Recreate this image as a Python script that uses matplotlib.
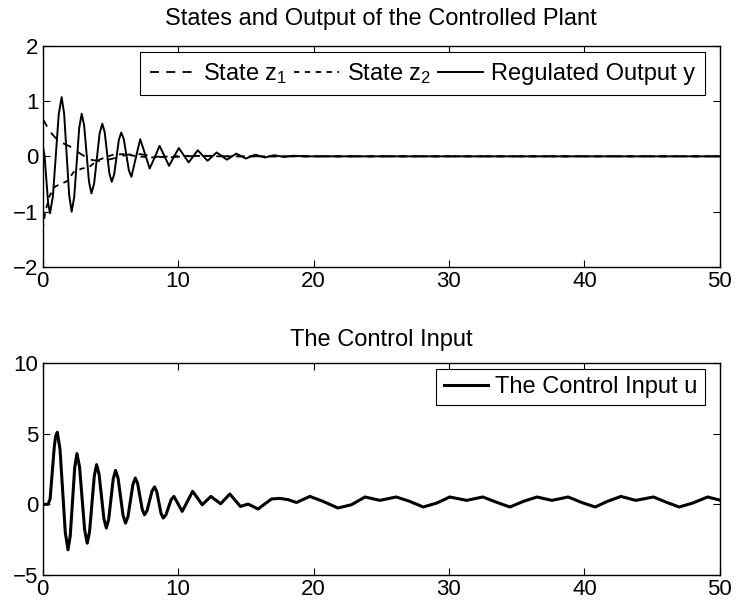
import matplotlib
matplotlib.use("Agg")
import matplotlib.pyplot as plt

plt.rcParams['font.family'] = ['Liberation Sans', 'DejaVu Sans']
plt.rcParams['mathtext.default'] = 'regular'

# ---------------------------------------------------------------
# data (time, value)
# ---------------------------------------------------------------
# regulated output y
t_y = [0.0, 0.135, 0.27, 0.405, 0.54, 0.755, 0.97, 1.185, 1.4, 1.585, 1.77, 1.955,
       2.14, 2.325, 2.51, 2.695, 2.88, 3.06, 3.24, 3.42, 3.6, 3.8, 4.0, 4.2, 4.4,
       4.575, 4.75, 4.925, 5.1, 5.275, 5.45, 5.625, 5.8, 5.99, 6.175, 6.36, 6.55,
       6.875, 7.2, 7.55, 7.9, 8.27, 8.63, 8.98, 9.33, 10.05, 10.78, 11.45, 12.17,
       12.85, 13.6, 14.3, 15.0, 15.7, 16.4, 17.1, 17.8, 18.5, 19.5, 50.0]
y_out = [0.2, 0.02, -0.42, -0.85, -1.03, -0.72, 0.02, 0.76, 1.07, 0.77, 0.03, -0.70,
         -1.0, -0.74, -0.12, 0.51, 0.77, 0.56, 0.05, -0.46, -0.67, -0.49, -0.04, 0.41, 0.59,
         0.44, 0.07, -0.31, -0.46, -0.33, -0.02, 0.30, 0.43, 0.31, 0.03, -0.25, -0.37,
         -0.03, 0.31, 0.05, -0.22, -0.02, 0.19, 0.01, -0.17, 0.15, -0.11, 0.11, -0.08,
         0.07, -0.06, 0.05, -0.04, 0.03, -0.02, 0.02, -0.01, 0.01, 0.0, 0.0]

# state z1
t_z1 = [0.0, 0.3, 0.7, 1.2, 2.0, 2.7, 3.5, 4.3, 5.2, 6.2, 7.2, 8.2, 9.2, 10.5,
        12.0, 14.0, 50.0]
z1 = [0.68, 0.55, 0.40, 0.27, 0.18, 0.06, -0.06, -0.09, -0.04, 0.03, 0.04, 0.0,
      -0.02, 0.0, 0.01, 0.0, 0.0]

# state z2
t_z2 = [0.0, 0.2, 0.5, 0.9, 1.3, 1.8, 2.3, 2.9, 3.4, 4.0, 4.5, 5.2, 6.0, 7.0,
        8.0, 9.5, 11.0, 13.0, 50.0]
z2 = [-1.32, -1.0, -0.72, -0.55, -0.50, -0.45, -0.28, -0.22, -0.20, -0.08, -0.03,
      0.03, 0.04, 0.0, -0.02, 0.0, 0.01, 0.0, 0.0]

# control input u
t_u = [0.0, 0.4, 0.55, 0.7, 0.85, 0.95, 1.08, 1.28, 1.475, 1.67, 1.87, 2.035, 2.2,
       2.365, 2.53, 2.72, 2.91, 3.10, 3.29, 3.46, 3.635, 3.81, 3.98, 4.16, 4.34,
       4.52, 4.7, 4.87, 5.04, 5.21, 5.38, 5.565, 5.75, 5.935, 6.12, 6.30, 6.48,
       6.66, 6.84, 7.01, 7.18, 7.35, 7.52, 7.705, 7.89, 8.075, 8.26, 8.42, 8.58,
       8.74, 8.9, 9.1, 9.295, 9.49, 9.69, 10.0, 10.3, 10.69, 11.07, 11.43, 11.78,
       12.42, 13.14, 13.82, 14.6, 15.17, 15.9, 16.9, 17.5, 18.13, 18.74, 19.73,
       20.7, 21.8, 22.8, 23.8, 24.9, 26.1, 27.1, 28.1, 29.1, 30.06, 31.3, 32.5,
       33.5, 34.5, 35.5, 36.5, 37.6, 38.8, 39.8, 40.8, 41.7, 42.7, 43.8, 45.1,
       46.1, 47.0, 48.0, 49.1, 50.0]
u = [0.0, 0.0, 0.4, 2.2, 4.0, 4.8, 5.1, 3.89, 0.94, -2.0, -3.22, -2.23, 0.19,
     2.60, 3.59, 2.66, 0.42, -1.82, -2.75, -1.94, 0.03, 2.0, 2.81, 2.15, 0.57,
     -1.02, -1.68, -1.08, 0.36, 1.80, 2.40, 1.86, 0.54, -0.79, -1.33, -0.86, 0.27,
     1.39, 1.86, 1.48, 0.56, -0.36, -0.74, -0.45, 0.25, 0.94, 1.23, 0.91, 0.13,
     -0.65, -0.97, -0.75, -0.2, 0.34, 0.56, 0.03, -0.5, 0.21, 0.92, 0.45, -0.03,
     0.56, 0.04, 0.73, -0.15, 0.02, -0.33, 0.38, 0.42, 0.33, 0.13, 0.56,
     0.21, -0.26, -0.03, 0.52, 0.28, 0.52, 0.21, -0.19, 0.09, 0.52, 0.28, 0.52,
     0.15, -0.19, 0.21, 0.52, 0.28, 0.52, 0.13, -0.19, 0.21, 0.56, 0.28, 0.52,
     0.13, -0.19, 0.09, 0.52, 0.30]

x_ticks = [0, 10, 20, 30, 40, 50]

# ---------------------------------------------------------------
fig = plt.figure(figsize=(7.36, 6.10), dpi=100)
ax1 = fig.add_axes([0.058, 0.5623, 0.920, 0.3628])
ax2 = fig.add_axes([0.058, 0.0574, 0.920, 0.3475])

def matlab_axes(ax):
    ax.tick_params(direction='in', top=True, right=True, length=5, width=0.8,
                   labelsize=16, pad=3)
    for s in ax.spines.values():
        s.set_linewidth(1.0)
        s.set_color('black')

# top panel
ax1.plot(t_z1, z1, color='black', lw=1.3, dashes=(5, 4), label=r'State $z_1$')
ax1.plot(t_z2, z2, color='black', lw=1.3, dashes=(3, 3), label=r'State $z_2$')
ax1.plot(t_y, y_out, color='black', lw=1.4, label='Regulated Output y')
ax1.set_xlim(0, 50)
ax1.set_ylim(-2, 2)
ax1.set_xticks(x_ticks)
ax1.set_yticks([-2, -1, 0, 1, 2])
matlab_axes(ax1)
ax1.set_title('States and Output of the Controlled Plant', fontsize=17, pad=15)
leg1 = ax1.legend(loc='upper right', bbox_to_anchor=(0.978, 0.973), borderaxespad=0,
                  ncol=3, fontsize=17, handlelength=1.9, handletextpad=0.35,
                  columnspacing=0.3, fancybox=False, framealpha=1, borderpad=0.4)
leg1.get_frame().set_edgecolor('black')
leg1.get_frame().set_linewidth(0.8)

# bottom panel
ax2.plot(t_u, u, color='black', lw=2.2, label='The Control Input u')
ax2.set_xlim(0, 50)
ax2.set_ylim(-5, 10)
ax2.set_xticks(x_ticks)
ax2.set_yticks([-5, 0, 5, 10])
matlab_axes(ax2)
ax2.set_title('The Control Input', fontsize=17, pad=12)
leg2 = ax2.legend(loc='upper right', bbox_to_anchor=(0.978, 0.972), borderaxespad=0,
                  fontsize=17, handlelength=1.9, handletextpad=0.3,
                  fancybox=False, framealpha=1, borderpad=0.3)
leg2.get_frame().set_edgecolor('black')
leg2.get_frame().set_linewidth(0.8)

fig.savefig('out.png', dpi=100)
